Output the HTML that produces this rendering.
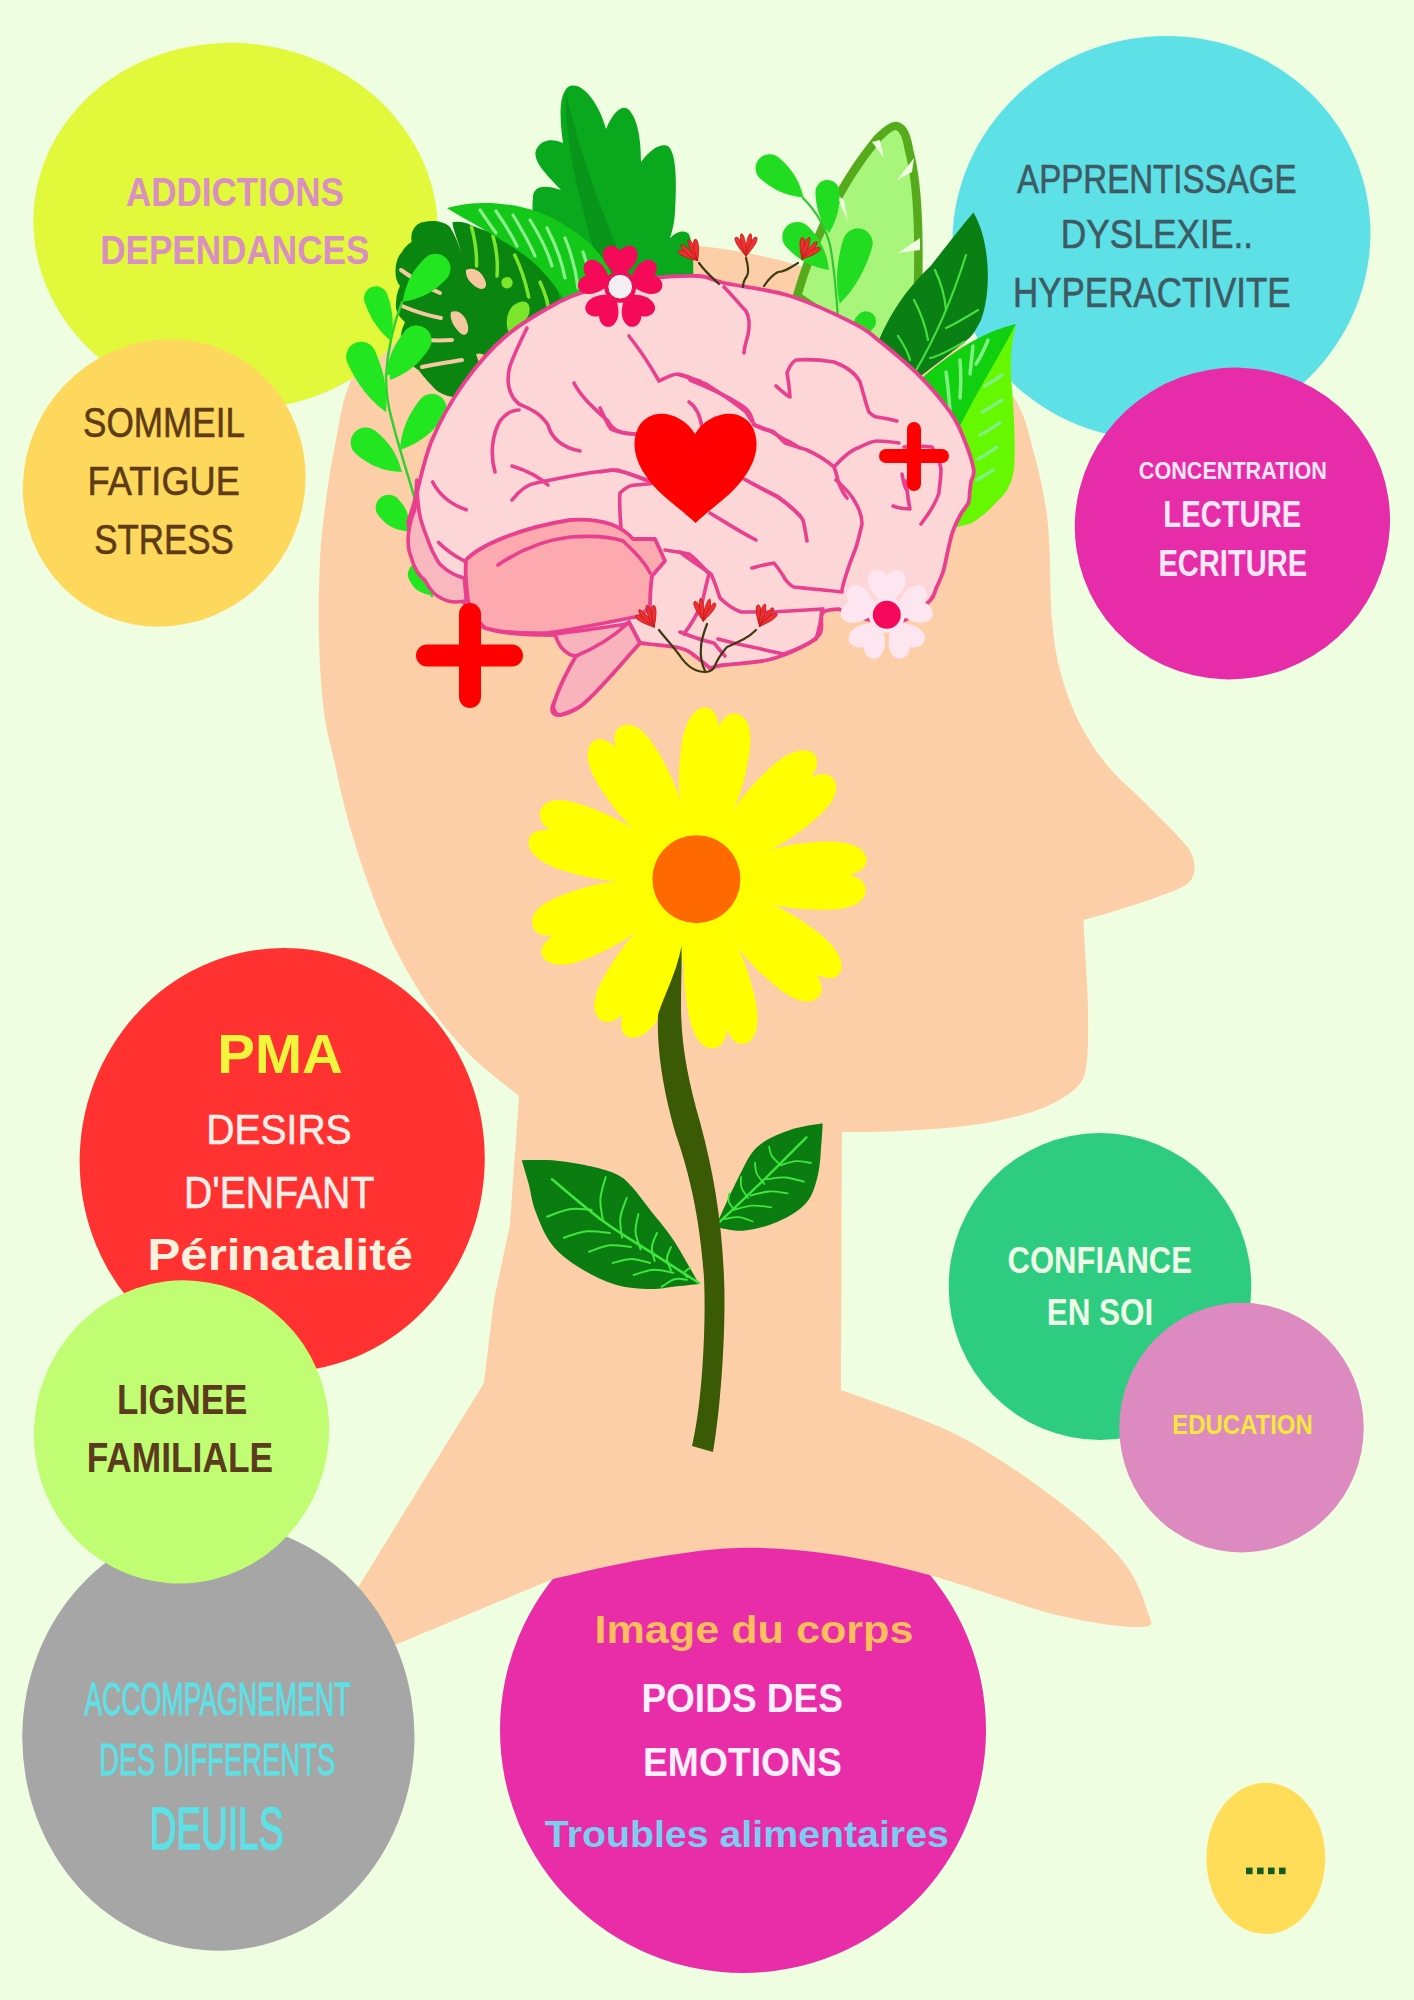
<!DOCTYPE html>
<html><head><meta charset="utf-8">
<style>
html,body{margin:0;padding:0;background:#effde0;}
body{width:1414px;height:2000px;overflow:hidden;}
svg{display:block;}
text{font-family:"Liberation Sans",sans-serif;}
</style></head><body>
<svg width="1414" height="2000" viewBox="0 0 1414 2000">
<defs>
<path id="dpetal" d="M0,-30 C-26,-50 -33,-90 -34,-125 C-35,-150 -29,-169 -16,-171 C-7,-172 -3,-164 0,-154 C3,-164 9,-171 18,-169 C31,-166 35,-148 34,-125 C33,-90 26,-50 0,-30 Z"/>
<g id="rf"><g fill="#ee3030" stroke="#c01818" stroke-width="0.8">
<path d="M0,8 C-4,4 -12,-6 -11,-10 C-9,-13 -6,-8 -3,-2 Z"/>
<path d="M0,8 C-4,2 -7,-10 -5,-14 C-3,-16 -1,-8 0,-2 Z"/>
<path d="M0,8 C4,2 7,-10 5,-14 C3,-16 1,-8 0,-2 Z"/>
<path d="M0,8 C4,4 12,-6 11,-10 C9,-13 6,-8 3,-2 Z"/>
</g></g>
<path id="spetal" d="M0,-0.2 C-0.15,-0.35 -0.44,-0.52 -0.41,-0.8 C-0.39,-1.0 -0.14,-1.04 0,-0.86 C0.14,-1.04 0.39,-1.0 0.41,-0.8 C0.44,-0.52 0.15,-0.35 0,-0.2 Z"/>
</defs>
<rect width="1414" height="2000" fill="#effde0"/>
<circle cx="743" cy="1730" r="243" fill="#e92ca8"/>

<path id="head" fill="#fdcfa9" d="M519.0,1096.0 C510.5,1088.8 483.7,1069.0 468.0,1053.0 C452.3,1037.0 437.8,1018.8 425.0,1000.0 C412.2,981.2 400.7,960.0 391.0,940.0 C381.3,920.0 374.2,900.0 367.0,880.0 C359.8,860.0 353.5,840.0 348.0,820.0 C342.5,800.0 338.0,778.0 334.0,760.0 C330.0,742.0 326.5,732.0 324.0,712.0 C321.5,692.0 319.7,665.3 319.0,640.0 C318.3,614.7 318.8,583.3 320.0,560.0 C321.2,536.7 323.3,520.0 326.0,500.0 C328.7,480.0 331.7,460.3 336.0,440.0 C340.3,419.7 341.3,401.3 352.0,378.0 C362.7,354.7 375.3,320.0 400.0,300.0 C424.7,280.0 463.3,267.2 500.0,258.0 C536.7,248.8 586.7,247.0 620.0,245.0 C653.3,243.0 670.0,242.5 700.0,246.0 C730.0,249.5 766.7,255.3 800.0,266.0 C833.3,276.7 871.7,296.0 900.0,310.0 C928.3,324.0 950.8,335.2 970.0,350.0 C989.2,364.8 1004.2,381.2 1015.0,399.0 C1025.8,416.8 1029.5,436.0 1035.0,457.0 C1040.5,478.0 1045.2,497.8 1048.0,525.0 C1050.8,552.2 1049.8,595.2 1052.0,620.0 C1054.2,644.8 1056.5,657.0 1061.0,674.0 C1065.5,691.0 1071.5,707.0 1079.0,722.0 C1086.5,737.0 1095.5,751.0 1106.0,764.0 C1116.5,777.0 1131.0,789.0 1142.0,800.0 C1153.0,811.0 1164.0,821.5 1172.0,830.0 C1180.0,838.5 1186.2,844.5 1190.0,851.0 C1193.8,857.5 1195.0,863.5 1194.5,869.0 C1194.0,874.5 1192.8,879.5 1187.0,884.0 C1181.2,888.5 1172.0,891.5 1160.0,896.0 C1148.0,900.5 1127.8,907.0 1115.0,911.0 C1102.2,915.0 1088.8,918.5 1083.5,920.0 C1083.8,925.0 1084.2,935.0 1085.0,950.0 C1085.8,965.0 1087.8,991.0 1088.0,1010.0 C1088.2,1029.0 1088.5,1051.0 1086.5,1064.0 C1084.5,1077.0 1083.8,1080.5 1076.0,1088.0 C1068.2,1095.5 1056.0,1103.0 1040.0,1109.0 C1024.0,1115.0 1003.3,1120.3 980.0,1124.0 C956.7,1127.7 923.0,1129.7 900.0,1131.0 C877.0,1132.3 851.7,1131.8 842.0,1132.0 C841.8,1175.0 841.2,1347.0 841.0,1390.0 C860.3,1397.5 921.0,1416.7 957.0,1435.0 C993.0,1453.3 1029.5,1479.2 1057.0,1500.0 C1084.5,1520.8 1107.0,1541.7 1122.0,1560.0 C1137.0,1578.3 1143.7,1598.8 1147.0,1610.0 C1150.3,1621.2 1157.0,1626.2 1142.0,1627.0 C1127.0,1627.8 1092.5,1623.7 1057.0,1615.0 C1021.5,1606.3 966.8,1585.2 929.0,1575.0 C891.2,1564.8 862.0,1558.5 830.0,1554.0 C798.0,1549.5 768.7,1547.0 737.0,1548.0 C705.3,1549.0 670.7,1554.8 640.0,1560.0 C609.3,1565.2 567.5,1575.8 553.0,1579.0 C527.0,1589.8 423.0,1633.2 397.0,1644.0 C387.5,1646.7 349.5,1657.3 340.0,1660.0 C343.2,1631.0 355.8,1595.0 359.0,1586.0 C379.8,1552.2 463.2,1416.8 484.0,1383.0 C485.7,1369.2 492.3,1313.8 494.0,1300.0 C496.7,1287.5 507.3,1237.5 510.0,1225.0 C511.3,1206.2 516.7,1130.8 518.0,1112.0 C518.2,1109.3 518.8,1098.7 519.0,1096.0 Z"/>

<ellipse cx="235.6" cy="226.0" rx="182.8" ry="202.5" transform="rotate(97.2 235.6 226.0)" fill="#e2f83a"/>
<ellipse cx="164.2" cy="482.9" rx="139.5" ry="145.6" transform="rotate(-146.2 164.2 482.9)" fill="#fdd85c"/>
<ellipse cx="1161.4" cy="237.9" rx="201.2" ry="209.7" transform="rotate(73.2 1161.4 237.9)" fill="#5de0e6"/>
<ellipse cx="1232.4" cy="523.5" rx="154.9" ry="158.6" transform="rotate(58.7 1232.4 523.5)" fill="#e72caa"/>
<ellipse cx="282.2" cy="1160.0" rx="202.5" ry="212.0" transform="rotate(-175.6 282.2 1160.0)" fill="#ff3131"/>
<ellipse cx="218.4" cy="1737.1" rx="196.1" ry="213.6" transform="rotate(-179.3 218.4 1737.1)" fill="#a6a6a6"/>
<ellipse cx="181.5" cy="1431.9" rx="147.3" ry="151.9" transform="rotate(-164.5 181.5 1431.9)" fill="#c1fd72"/>
<ellipse cx="1100" cy="1286.5" rx="151.3" ry="153.5" fill="#2ecc80"/>
<ellipse cx="1241.5" cy="1427.6" rx="122.2" ry="124.8" fill="#dd8ac0"/>
<ellipse cx="1265.8" cy="1858.3" rx="59.4" ry="75.6" fill="#ffdd59"/>

<g id="plants" stroke-linecap="round" stroke-linejoin="round">
<!-- big serrated leaf -->
<path fill="#0aa81c" d="M548,310 C540,270 530,230 533,196 C534,186 545,184 561,190 C548,176 530,160 537,148 C543,138 555,139 563,143 C560,120 558,96 568,87 C580,80 598,100 606,129 C612,115 620,104 628,109 C638,118 641,140 641,162 C650,150 660,143 668,146 C678,155 676,190 675,213 C674,225 672,232 670,238 C676,232 684,229 689,234 C695,250 693,265 693,300 L600,320 Z"/>
<path fill="#08951a" d="M566,92 C574,130 590,180 608,225 C620,255 630,285 640,315 L612,318 C600,275 588,230 578,190 C570,155 565,120 566,92 Z"/>
<!-- monstera -->
<path fill="#0a850f" d="M411.6,242 C410,232 415,223 424,222 C432,220 444,221 450,227 C455,235 459,245 461.3,253.5 C458,240 453,230 452.4,222.3 C458,221 466,222 471.5,225.5 C478,228 484,230 490,232 C510,240 535,258 552,280 C566,300 566,340 552,385 L476,398 C462,399 446,398 436,390 C428,382 422,375 419,370.6 C408,364 402,352 401,337 C401,330 404,325 405,322 C398,316 395,310 396,303 C396,296 398,290 400,286 C395,280 395,272 396,265 C397,258 400,254 402,252 C404,248 408,244 411.6,242 Z"/>
<g fill="none" stroke="#f5c8a0" stroke-linecap="round">
<path stroke-width="4" d="M401,270 C415,280 428,288 440,293"/>
<path stroke-width="4" d="M402,306 C416,312 430,316 441,318"/>
<path stroke-width="4" d="M405,338 C420,340 438,341 452,340"/>
<path stroke-width="4" d="M422,367 C436,364 450,362 462,360"/>
</g>
<g fill="#f5c8a0">
<path d="M466,270 C474,266 482,272 485,280 C488,287 484,291 478,288 C472,285 465,278 466,270 Z"/>
<path d="M451,312 C459,309 466,316 468,326 C469,334 465,337 460,333 C455,328 449,320 451,312 Z"/>
<path d="M476,354 C482,352 488,356 489,362 C488,366 483,366 479,363 Z"/>
</g>
<g fill="none" stroke="#7ce62c" stroke-width="3.5" stroke-linecap="round">
<path d="M471.5,227 C475,240 477,253 476.5,266"/>
<path d="M493,236 C497,250 498,262 497,276"/>
<path d="M514.7,255 C522,270 526,284 528.7,297"/>
<path d="M540,282 C546,295 549,305 549,315"/>
</g>
<path fill="#7ce62c" d="M520,302 C528,300 531,306 529,314 C526,322 516,331 510,334 C505,328 506,315 511,308 C514,304 517,303 520,302 Z"/>
<circle cx="507" cy="282.7" r="5.7" fill="#7ce62c"/>
<!-- fern -->
<path fill="#14c81a" d="M447,208 C480,198 530,202 566,226 C590,240 605,258 612,275 C600,290 585,300 568,305 C555,285 540,265 517,250 C495,236 475,224 461,216.5 C455,213 450,210 447,208 Z"/>
<g stroke="#8af08a" stroke-width="3.2" fill="none" stroke-linecap="round">
<path d="M480,210 C487,220 492,228 496,233"/>
<path d="M496,211 C505,224 512,236 517,246"/>
<path d="M513,215 C522,230 530,244 535,256"/>
<path d="M530,220 C540,236 548,252 552,266"/>
<path d="M547,228 C556,245 562,262 565,278"/>
<path d="M565,238 C572,255 576,270 578,288"/>
<path d="M583,252 C588,265 590,278 590,292"/>
</g>
<!-- left vine -->
<path fill="none" stroke="#30d030" stroke-width="2.5" d="M402,302 C395,320 388,345 386,376 C386,395 389,410 392,420 C398,445 408,475 414,496 C418,520 420,550 432,596"/>
<g fill="#22e620">
<path transform="translate(402.7,301.8) rotate(-45.3)" d="M0,0 C18.5,-13.5 33.1,-15.0 46.6,-15.0 A15.0,15.0 0 0 1 46.6,15.0 C33.1,15.0 18.5,13.5 0,0 Z"/>
<path transform="translate(391.0,341.0) rotate(-109.4)" d="M0,0 C17.2,-10.8 34.4,-12.0 45.2,-12.0 A12.0,12.0 0 0 1 45.2,12.0 C34.4,12.0 17.2,10.8 0,0 Z"/>
<path transform="translate(386.0,412.0) rotate(-114.2)" d="M0,0 C22.7,-13.5 47.1,-15.0 60.6,-15.0 A15.0,15.0 0 0 1 60.6,15.0 C47.1,15.0 22.7,13.5 0,0 Z"/>
<path transform="translate(386.0,376.0) rotate(-50.3)" d="M0,0 C18.3,-12.6 34.5,-14.0 47.1,-14.0 A14.0,14.0 0 0 1 47.1,14.0 C34.5,14.0 18.3,12.6 0,0 Z"/>
<path transform="translate(402.0,472.0) rotate(-140.9)" d="M0,0 C18.6,-13.5 33.3,-15.0 46.8,-15.0 A15.0,15.0 0 0 1 46.8,15.0 C33.3,15.0 18.6,13.5 0,0 Z"/>
<path transform="translate(400.0,450.0) rotate(-52.3)" d="M0,0 C20.1,-13.5 38.5,-15.0 52.0,-15.0 A15.0,15.0 0 0 1 52.0,15.0 C38.5,15.0 20.1,13.5 0,0 Z"/>
<path transform="translate(410.0,532.0) rotate(-131.4)" d="M0,0 C13.6,-11.7 20.6,-13.0 32.3,-13.0 A13.0,13.0 0 0 1 32.3,13.0 C20.6,13.0 13.6,11.7 0,0 Z"/>
<path transform="translate(432.0,596.0) rotate(-119.4)" d="M0,0 C11.0,-10.8 13.9,-12.0 24.7,-12.0 A12.0,12.0 0 0 1 24.7,12.0 C13.9,12.0 11.0,10.8 0,0 Z"/>
<path transform="translate(390.0,380.0) rotate(-56.1)" d="M0,0 C18.8,-13.5 34.2,-15.0 47.7,-15.0 A15.0,15.0 0 0 1 47.7,15.0 C34.2,15.0 18.8,13.5 0,0 Z"/>
</g>
<!-- right light green serrated leaf -->
<path fill="#a8f57c" stroke="#56ab1c" stroke-width="8.5" stroke-linejoin="round" d="M797,296 C803,275 812,250 825,222 C838,195 858,162 878,138 C886,130 893,125 897,126 C904,128 907,138 909,150 C913,165 917,190 918,227 C919,260 918,300 916,335 L870,345 Z"/>
<g fill="#effde0">
<path d="M836,194 L848,222 L844,200 Z"/>
<path d="M872,142 L884,158 L880,140 Z"/>
<path d="M914,158 L897,180 L912,172 Z"/>
<path d="M920,238 L898,253 L920,250 Z"/>
</g>
<!-- right vine -->
<path fill="none" stroke="#30c830" stroke-width="2.2" d="M803,198 C815,210 825,225 830,245 C834,265 836,290 838,318"/>
<g fill="#22dc22">
<path transform="translate(803.6,197.6) rotate(-139.1)" d="M0,0 C17.7,-12.6 32.4,-14.0 45.0,-14.0 A14.0,14.0 0 0 1 45.0,14.0 C32.4,14.0 17.7,12.6 0,0 Z"/>
<path transform="translate(829.0,233.0) rotate(-92.2)" d="M0,0 C15.9,-10.8 30.2,-12.0 41.0,-12.0 A12.0,12.0 0 0 1 41.0,12.0 C30.2,12.0 15.9,10.8 0,0 Z"/>
<path transform="translate(829.0,270.0) rotate(-133.7)" d="M0,0 C18.2,-13.5 32.3,-15.0 45.8,-15.0 A15.0,15.0 0 0 1 45.8,15.0 C32.3,15.0 18.2,13.5 0,0 Z"/>
<path transform="translate(839.7,303.7) rotate(-73.4)" d="M0,0 C23.4,-13.5 49.5,-15.0 63.0,-15.0 A15.0,15.0 0 0 1 63.0,15.0 C49.5,15.0 23.4,13.5 0,0 Z"/>
<path transform="translate(855.0,333.0) rotate(-46.5)" d="M0,0 C7.9,-9.0 7.2,-10.0 16.2,-10.0 A10.0,10.0 0 0 1 16.2,10.0 C7.2,10.0 7.9,9.0 0,0 Z"/>
</g>
<!-- dark green leaf right -->
<path fill="#0a8014" d="M973.4,212.5 C990,240 992,290 981,320 C976,330 972,336 969.7,337.7 C955,350 935,365 900,392 C885,370 875,350 880,337.6 C890,315 905,290 931,265.5 C945,248 960,228 973.4,212.5 Z"/>
<g stroke="#45e040" stroke-width="2.2" fill="none" stroke-linecap="round">
<path d="M966,255 C955,290 940,330 915,372"/>
<path d="M935,270 C942,285 945,297 946,310"/>
<path d="M914,300 C922,315 926,328 928,340"/>
<path d="M898,336 C904,345 908,352 910,360"/>
<path d="M978,310 C965,318 955,324 946,328"/>
<path d="M964,342 C950,350 940,356 930,358"/>
</g>
<!-- bright green leaf right -->
<path fill="#10d010" d="M1016,324 C990,330 960,345 923,377 L915,470 C930,460 945,445 958,430 C975,400 1000,360 1016,324 Z"/>
<path fill="#66f800" d="M1016,324 C1010,345 1011,365 1011,378 C1013,400 1016,440 1014,469 C1012,485 1005,495 997,501.5 C990,510 980,518 971,523.5 L945,530 C940,490 948,455 958,430 C975,395 1000,355 1016,324 Z"/>
<g stroke="#80f080" stroke-width="3.5" fill="none" stroke-linecap="round">
<path d="M946,372 C948,385 949,398 950,410"/>
<path d="M960,360 C961,372 961,385 960,398"/>
<path d="M973,346 C972,356 971,365 970,374"/>
<path d="M988,340 C984,350 980,358 976,364"/>
<path d="M1002,375 C995,380 990,383 985,386"/>
<path d="M1002,400 C994,405 988,409 982,412"/>
<path d="M1000,423 C992,428 986,432 980,435"/>
<path d="M997,447 C990,452 984,456 978,459"/>
<path d="M993,470 C987,474 982,477 977,480"/>
</g>
</g>

<g id="brain" stroke-linecap="round" stroke-linejoin="round">
<!-- outer brain -->
<path fill="#fdd6d8" stroke="#e8408f" stroke-width="3.8" d="M408.0,522.0 C409.2,518.3 411.0,513.7 415.0,500.0 C419.0,486.3 423.8,459.5 432.0,440.0 C440.2,420.5 451.7,400.3 464.0,383.0 C476.3,365.7 490.2,349.5 506.0,336.0 C521.8,322.5 544.8,309.7 559.0,302.0 C573.2,294.3 578.7,293.7 591.0,290.0 C603.3,286.3 615.3,282.3 633.0,280.0 C650.7,277.7 681.8,275.5 697.0,276.0 C712.2,276.5 708.5,279.7 724.0,283.0 C739.5,286.3 768.2,289.2 790.0,296.0 C811.8,302.8 840.0,316.4 855.0,324.0 C870.0,331.6 869.3,333.0 880.0,341.6 C890.7,350.2 907.3,363.7 919.0,375.4 C930.7,387.1 942.7,401.6 950.0,411.8 C957.3,422.0 959.1,427.0 963.0,436.5 C966.9,446.0 972.3,461.4 973.6,469.0 C974.9,476.6 971.6,478.1 971.0,482.0 C970.4,485.9 970.1,488.9 969.7,492.4 C969.3,495.9 969.9,499.1 968.4,502.8 C966.9,506.5 963.2,509.7 960.6,514.5 C958.0,519.3 955.0,525.1 952.8,531.4 C950.6,537.6 949.2,545.2 947.6,552.0 C946.0,558.8 944.9,566.1 943.0,572.0 C941.1,577.9 938.7,582.6 936.5,587.4 C934.3,592.2 935.2,595.2 930.0,600.6 C924.8,606.0 915.0,616.8 905.0,620.0 C895.0,623.2 881.2,621.8 870.0,620.0 C858.8,618.2 843.3,610.8 838.0,609.0 C835.4,609.7 825.5,608.9 822.5,613.0 C819.5,617.1 823.3,627.9 820.0,633.5 C816.7,639.1 811.5,642.2 802.8,646.6 C794.1,651.0 780.8,656.9 767.7,660.0 C754.6,663.1 733.7,663.7 724.0,665.0 C714.3,666.3 712.1,667.5 709.7,668.0 C707.2,666.0 700.0,659.3 695.0,656.0 C690.0,652.7 689.2,650.2 680.0,648.0 C670.8,645.8 646.7,643.8 640.0,643.0 C635.0,648.3 619.7,664.7 610.0,675.0 C600.3,685.3 590.5,698.3 582.0,705.0 C573.5,711.7 563.8,715.0 559.0,715.0 C554.2,715.0 550.2,712.5 553.0,705.0 C555.8,697.5 564.8,682.8 576.0,670.0 C587.2,657.2 612.7,635.0 620.0,628.0 C609.2,629.2 577.5,635.0 555.0,635.0 C532.5,635.0 500.3,633.7 485.0,628.0 C469.7,622.3 466.7,605.5 463.0,601.0 C459.5,600.0 449.7,600.3 442.0,595.0 C434.3,589.7 422.7,581.2 417.0,569.0 C411.3,556.8 409.5,529.8 408.0,522.0 Z"/>
<!-- left lower lobe (medium pink) -->
<path fill="#f9b8c0" stroke="#e8408f" stroke-width="3.6" d="M414.8,509.7 C408,525 406,545 410.8,556 C414,568 419,576 424.7,580 C430,590 436,596 441,598 C446,601 452,602 456,602 C460,602 464,601 466.3,600.8 L464.3,578 C455,576 446,570 439.6,564 C433,554 430,546 427.7,539.4 C424,530 421,522 419.8,515 C418,505 417,495 416.8,480 Z"/>
<path fill="none" stroke="#e8408f" stroke-width="3.6" stroke-linecap="round" d="M438.6,542.4 C446,550 455,556 464.3,561"/>
<!-- temporal lobe -->
<path fill="#fcaab0" stroke="#e8408f" stroke-width="3.8" d="M466,560 C480,545 520,528 570,520 C600,518 620,524 633,539 L655,539 L665,561 L652,576 C650,590 650,600 650,607 L640,616 C600,624 570,630 548,633 C520,634 500,632 485,628 C476,620 470,612 468,600 C466,585 465,572 466,560 Z"/>
<path fill="none" stroke="#e8408f" stroke-width="3.6" d="M498,565 C520,550 545,540 570,537 C600,535 615,538 623,541 C635,552 645,562 650,573"/>
<!-- brainstem -->
<path fill="#f9b3bc" stroke="#e8408f" stroke-width="3.8" d="M629,622 C610,635 590,648 576,656 C565,675 556,695 553,707 C555,713 558,715 560,715 C570,712 578,708 582,705 C600,690 620,665 640,643 Z"/>
<path fill="#f9b3bc" stroke="#e8408f" stroke-width="3.6" d="M555,634 C558,645 565,655 576,656 C595,648 612,638 627,624 C600,628 575,632 555,634 Z"/>
<!-- sulci -->
<g fill="none" stroke="#e8408f" stroke-width="3.6">
<path d="M527,328 C522,338 515,352 510,366 C506,380 508,395 519,404 C528,408 540,412 548,425 C552,440 565,448 580,451"/>
<path d="M495,472 C490,455 492,435 500,421 C506,413 512,410 519,410"/>
<path d="M574,383 C580,395 590,405 608,421 C612,430 620,434 635,434"/>
<path d="M629,336 C640,350 650,365 659,381 C665,378 672,374 678,374 C688,376 695,380 700,381"/>
<path d="M512,466 C525,470 537,475 548,485"/>
<path d="M512,500 C520,490 528,484 536,483 C560,478 590,472 612,470 C625,471 640,477 654,483"/>
<path d="M432.6,482 C440,496 452,505 466.3,509.7"/>
<path d="M689,402 C695,406 700,415 702,427"/>
<path d="M600,408 C605,418 608,426 611,429 C620,433 628,434 636,434"/>
<path d="M690,380 C710,388 730,398 741,405 C750,410 752,418 754,425 C760,428 765,430 770,431 C777,434 780,438 790,442 C795,445 800,448 800,448"/>
<path d="M600,472 C605,471 612,470 617,470 C630,474 640,478 654,483"/>
<path d="M621,528 C620,515 619,503 620,493 C625,488 630,485 635,485 C645,484 650,484 654,483"/>
<path d="M744,479 C755,485 765,490 777,496 C785,502 793,508 800,516"/>
<path d="M710,513 C725,522 740,532 756,540"/>
<path d="M724,287 C732,295 740,305 746,311 C750,318 750,325 748,335 C746,342 744,348 744,353"/>
<path d="M776,386 C782,391 786,395 790,397 C789,385 788,378 787,373 C790,365 794,361 796,360 C810,359 822,360 834,362 C850,368 857,376 860,382 C864,395 866,405 869,412 C872,415 875,417 877,417 C885,418 890,419 897,421"/>
<path d="M680,375 C690,378 700,382 706,384 C720,393 735,403 746,412 C750,418 752,422 755,425 C762,428 768,430 774,432 C778,436 782,440 785,443 C795,446 800,448 807,450 C818,455 826,460 834,467 C836,472 837,476 838,480 C840,487 843,493 847,498"/>
<path d="M834,467 C842,458 850,450 860,447 C866,444 872,441 877,441 C885,441 892,442 899,443"/>
<path d="M904,447 C915,446 925,446 932,447 C937,455 940,462 941,469 C941,476 940,484 939,491"/>
<path d="M902,474 C903,480 904,485 906,489"/>
<path d="M746,480 C758,487 770,493 779,498 C790,506 798,512 803,520 C805,528 806,535 807,541"/>
<path d="M836,480 C845,488 852,495 855,502 C860,510 862,517 862,524 C860,533 858,542 855,550 C852,558 849,565 847,572 C845,578 843,584 842,590"/>
<path d="M752,568 C760,566 767,564 774,563 C778,568 782,573 785,579 C788,583 791,586 794,587 C810,589 826,590 842,592"/>
<path d="M680,552 C690,560 700,566 711,574 C715,582 717,590 720,598 C726,604 733,609 741,612 C750,612 760,612 772,612 C790,611 806,610 823,609"/>
<path d="M709,574 C706,585 704,595 702,603 C698,613 692,623 684,634"/>
<path d="M893,506 C898,508 903,509 910,509 C908,500 907,490 906,481"/>
<path d="M921,524 C928,515 935,505 939,493"/>
<path d="M665,550 C672,551 680,552 689,554 C697,560 703,567 710,575"/>
<path d="M718,639 C730,642 740,645 752,647 C762,649 772,652 784,654 C795,650 806,645 816,639 C819,630 821,620 822,609"/>
<path d="M680,632 C690,636 700,640 714,643 C718,648 721,652 725,656"/>
</g>
<!-- heart -->
<path fill="#ff0000" d="M695,434 C682,412 650,405 638,428 C628,450 640,475 665,497 C677,507 688,516 695.5,523 C703,516 714,507 726,497 C751,475 763,450 753,428 C741,405 708,412 695,434 Z"/>
<!-- plus signs -->
<g stroke="#ff0000" stroke-linecap="round" fill="none">
<path stroke-width="14" d="M914,429 L914,484 M886,456 L942,456"/>
<path stroke-width="22" d="M470,614 L470,697 M427,655.5 L512,655.5"/>
</g>
<!-- pink flower top -->
<g fill="#f50a5a">
<use href="#spetal" transform="translate(620.2,286.7) scale(42) rotate(0)"/>
<use href="#spetal" transform="translate(620.2,286.7) scale(42) rotate(72)"/>
<use href="#spetal" transform="translate(620.2,286.7) scale(42) rotate(144)"/>
<use href="#spetal" transform="translate(620.2,286.7) scale(42) rotate(216)"/>
<use href="#spetal" transform="translate(620.2,286.7) scale(42) rotate(288)"/>
</g>
<circle cx="620.2" cy="286.7" r="16" fill="#f50a5a"/>
<circle cx="620.2" cy="286.7" r="12.4" fill="#f3eef2" stroke="#d0084c" stroke-width="1"/>
<!-- white flower -->
<g fill="#fde6ef">
<use href="#spetal" transform="translate(886.8,614.8) scale(46) rotate(0)"/>
<use href="#spetal" transform="translate(886.8,614.8) scale(46) rotate(72)"/>
<use href="#spetal" transform="translate(886.8,614.8) scale(46) rotate(144)"/>
<use href="#spetal" transform="translate(886.8,614.8) scale(46) rotate(216)"/>
<use href="#spetal" transform="translate(886.8,614.8) scale(46) rotate(288)"/>
</g>
<circle cx="886.8" cy="614.8" r="18" fill="#fde6ef"/>
<circle cx="886.8" cy="614.8" r="14" fill="#f5075a"/>
<!-- small red flowers -->
<g fill="none" stroke="#3d3a12" stroke-width="2.2">
<path d="M699,263 C704,270 710,276 719,284"/>
<path d="M746,258 C748,265 749,272 747,276 C744,280 743,284 743,287"/>
<path d="M798,263 C790,268 784,272 778,272 C772,275 768,280 764,286"/>
<path d="M659,630 C665,638 672,645 680,656 C688,668 698,672 705.5,672"/>
<path d="M707,624 C704,632 701,640 701,647 C700,656 702,665 705.5,672"/>
<path d="M756,630 C752,634 748,637 744,639 C738,642 732,645 727,647 C720,655 716,662 714,668 C711,671 708,672 705.5,672"/>
</g>
<use href="#rf" transform="translate(693,254) rotate(-35)"/>
<use href="#rf" transform="translate(746,248) rotate(0)"/>
<use href="#rf" transform="translate(806,252) rotate(30)"/>
<use href="#rf" transform="translate(650,620) rotate(-30)"/>
<use href="#rf" transform="translate(704,613) rotate(5)"/>
<use href="#rf" transform="translate(763,619) rotate(25)"/>
</g>

<g id="daisy">
<g fill="#ffff00">
<use href="#dpetal" transform="translate(696,879) rotate(8.5)"/>
<use href="#dpetal" transform="translate(696,879) rotate(48.5)"/>
<use href="#dpetal" transform="translate(696,879) rotate(88.5)"/>
<use href="#dpetal" transform="translate(696,879) rotate(128.5)"/>
<use href="#dpetal" transform="translate(696,879) rotate(168.5)"/>
<use href="#dpetal" transform="translate(696,879) rotate(208.5)"/>
<use href="#dpetal" transform="translate(696,879) rotate(248.5)"/>
<use href="#dpetal" transform="translate(696,879) rotate(288.5)"/>
<use href="#dpetal" transform="translate(696,879) rotate(328.5)"/>
<circle cx="696" cy="879" r="62"/>
</g>
<circle cx="696.4" cy="879.2" r="44" fill="#ff6a00"/>

<path fill="#0a7c10" d="M521.7,1160.2 C527.5,1160.3 545.0,1159.7 556.7,1160.7 C568.4,1161.8 581.6,1164.2 591.7,1166.5 C601.8,1168.8 610.8,1171.4 617.4,1174.7 C624.0,1178.0 626.0,1180.5 631.4,1186.3 C636.8,1192.1 643.0,1200.8 650.0,1209.7 C657.0,1218.7 665.2,1227.6 673.4,1240.0 C681.6,1252.4 694.7,1276.7 699.0,1284.0 C694.7,1284.5 681.6,1285.9 673.4,1286.7 C665.2,1287.5 659.7,1289.4 650.0,1289.0 C640.3,1288.6 626.7,1287.9 615.0,1284.4 C603.3,1280.9 590.5,1274.6 580.0,1268.0 C569.5,1261.4 559.4,1254.0 552.0,1244.7 C544.6,1235.4 539.6,1222.1 535.7,1212.0 C531.8,1201.9 531.0,1192.6 528.7,1184.0 C526.4,1175.4 522.9,1164.2 521.7,1160.2 Z"/>
<path fill="#0a7c10" d="M822.7,1123.3 C817.2,1124.4 800.9,1126.1 790.0,1130.0 C779.1,1133.9 765.9,1138.9 757.4,1146.7 C748.9,1154.5 745.7,1163.6 738.7,1177.0 C731.7,1190.4 719.3,1218.7 715.4,1227.0 C720.1,1227.6 732.9,1231.6 743.4,1230.7 C753.9,1229.8 767.9,1226.1 778.4,1221.4 C788.9,1216.7 799.8,1210.5 806.4,1202.7 C813.0,1194.9 815.5,1184.8 818.0,1174.7 C820.5,1164.6 820.7,1150.6 821.5,1142.0 C822.3,1133.4 822.5,1126.4 822.7,1123.3 Z"/>
<g stroke="#3ee63e" fill="none" stroke-linecap="round">
<path stroke-width="2.6" d="M552.0,1179.3 C560.5,1186.2 586.7,1208.9 603.0,1221.0 C619.3,1233.1 634.0,1241.4 650.0,1251.7 C666.0,1262.0 690.8,1277.8 699.0,1283.0"/>
<path stroke-width="2.0" d="M591.7,1209.7 C588.0,1209.6 576.8,1208.0 569.4,1209.2 C561.9,1210.4 550.7,1215.5 547.0,1216.7"/>
<path stroke-width="2.0" d="M610.0,1233.0 C606.1,1232.7 594.6,1230.6 586.9,1231.3 C579.1,1232.1 567.6,1236.6 563.7,1237.7"/>
<path stroke-width="2.0" d="M631.0,1247.0 C627.5,1246.7 617.0,1244.6 610.0,1245.3 C603.0,1246.1 592.5,1250.6 589.0,1251.7"/>
<path stroke-width="2.0" d="M650.0,1263.0 C646.9,1262.3 637.6,1259.0 631.4,1259.0 C625.1,1259.0 615.8,1262.3 612.7,1263.0"/>
<path stroke-width="2.0" d="M673.4,1272.7 C670.1,1272.2 660.2,1269.5 653.5,1269.8 C646.9,1270.2 637.0,1274.1 633.7,1275.0"/>
<path stroke-width="2.0" d="M687.0,1279.7 C684.9,1279.6 678.6,1278.0 674.4,1279.2 C670.1,1280.4 663.8,1285.5 661.7,1286.7"/>
<path stroke-width="2.0" d="M603.0,1221.0 C602.6,1217.3 599.9,1206.3 600.4,1199.0 C600.8,1191.7 604.8,1180.7 605.7,1177.0"/>
<path stroke-width="2.0" d="M622.0,1237.7 C621.7,1234.4 619.6,1224.5 620.4,1217.8 C621.1,1211.2 625.6,1201.3 626.7,1198.0"/>
<path stroke-width="2.0" d="M640.7,1249.4 C639.8,1246.5 635.9,1237.6 635.5,1231.7 C635.2,1225.8 637.9,1217.0 638.4,1214.0"/>
<path stroke-width="2.0" d="M654.7,1261.0 C654.2,1258.7 651.5,1251.7 651.9,1247.0 C652.2,1242.3 656.1,1235.3 657.0,1233.0"/>
<path stroke-width="2.0" d="M671.0,1270.4 C670.3,1268.5 667.0,1262.6 667.0,1258.7 C667.0,1254.8 670.3,1249.0 671.0,1247.0"/>
<path stroke-width="2.0" d="M687.0,1277.0 C686.6,1276.2 683.9,1274.0 684.4,1272.5 C684.8,1271.0 688.8,1268.8 689.7,1268.0"/>
<path stroke-width="2.4" d="M806.4,1137.3 C799.8,1143.9 781.9,1162.2 766.7,1177.0 C751.5,1191.8 724.0,1217.8 715.4,1226.0"/>
<path stroke-width="1.8" d="M780.7,1165.3 C779.2,1163.8 773.8,1159.1 771.9,1156.0 C769.9,1152.9 769.5,1148.2 769.0,1146.7"/>
<path stroke-width="1.8" d="M764.4,1184.0 C763.1,1182.2 758.3,1177.0 756.7,1173.5 C755.1,1170.0 755.3,1164.8 755.0,1163.0"/>
<path stroke-width="1.8" d="M748.0,1198.0 C746.9,1196.2 742.7,1191.0 741.5,1187.5 C740.3,1184.0 741.1,1178.8 741.0,1177.0"/>
<path stroke-width="1.8" d="M734.0,1209.7 C733.1,1208.3 729.5,1204.2 728.7,1201.5 C727.9,1198.8 729.3,1194.7 729.4,1193.3"/>
<path stroke-width="1.8" d="M780.7,1165.3 C783.2,1164.6 790.8,1161.5 795.9,1161.2 C800.9,1160.8 808.5,1162.7 811.0,1163.0"/>
<path stroke-width="1.8" d="M766.7,1179.3 C769.8,1179.0 779.1,1177.1 785.4,1177.5 C791.6,1177.9 800.9,1181.0 804.0,1181.7"/>
<path stroke-width="1.8" d="M750.4,1195.7 C753.5,1195.0 762.8,1191.9 769.0,1191.5 C775.3,1191.1 784.6,1193.0 787.7,1193.3"/>
<path stroke-width="1.8" d="M734.0,1209.7 C737.1,1209.0 746.5,1205.9 752.7,1205.6 C758.9,1205.2 768.3,1207.1 771.4,1207.4"/>
<path stroke-width="1.8" d="M724.7,1219.0 C727.0,1218.7 734.0,1216.8 738.7,1217.2 C743.4,1217.6 750.4,1220.7 752.7,1221.4"/>
</g>

<path fill="#3b5a06" d="M681.5,946 C676,975 662,1000 658,1015 C657,1040 660,1080 676,1135 C690,1175 700,1220 704,1278 C706,1320 703,1400 692,1446 L713,1452 C722,1400 726,1320 724,1278 C722,1220 713,1170 700,1122 C688,1080 681,1045 681,1005 C681,985 682,965 681.5,946 Z"/>
</g>

<g id="texts">
<text x="125.9" y="206.3" font-size="41.01" font-weight="bold" fill="#d98fc2" textLength="218.0" lengthAdjust="spacingAndGlyphs">ADDICTIONS</text>
<text x="100.2" y="264.4" font-size="40.58" font-weight="bold" fill="#d98fc2" textLength="269.1" lengthAdjust="spacingAndGlyphs">DEPENDANCES</text>
<text x="83.1" y="437" font-size="42.46" font-weight="normal" fill="#5e3b16" textLength="162.0" lengthAdjust="spacingAndGlyphs" stroke="#5e3b16" stroke-width="0.6">SOMMEIL</text>
<text x="87.6" y="495" font-size="41.45" font-weight="normal" fill="#5e3b16" textLength="152.3" lengthAdjust="spacingAndGlyphs" stroke="#5e3b16" stroke-width="0.6">FATIGUE</text>
<text x="94.2" y="554" font-size="42.03" font-weight="normal" fill="#5e3b16" textLength="139.7" lengthAdjust="spacingAndGlyphs" stroke="#5e3b16" stroke-width="0.6">STRESS</text>
<text x="1017.1" y="192.8" font-size="39.86" font-weight="normal" fill="#3e5a62" textLength="279.4" lengthAdjust="spacingAndGlyphs" stroke="#3e5a62" stroke-width="0.6">APPRENTISSAGE</text>
<text x="1060.8" y="247.6" font-size="41.45" font-weight="normal" fill="#3e5a62" textLength="192.3" lengthAdjust="spacingAndGlyphs" stroke="#3e5a62" stroke-width="0.6">DYSLEXIE..</text>
<text x="1013.0" y="306.8" font-size="42.32" font-weight="normal" fill="#3e5a62" textLength="277.6" lengthAdjust="spacingAndGlyphs" stroke="#3e5a62" stroke-width="0.6">HYPERACTIVITE</text>
<text x="1138.8" y="479.4" font-size="24.35" font-weight="bold" fill="#fde8f7" textLength="188.0" lengthAdjust="spacingAndGlyphs">CONCENTRATION</text>
<text x="1163.3" y="526.5" font-size="36.67" font-weight="bold" fill="#fde8f7" textLength="138.0" lengthAdjust="spacingAndGlyphs">LECTURE</text>
<text x="1158.4" y="576" font-size="36.23" font-weight="bold" fill="#fde8f7" textLength="148.8" lengthAdjust="spacingAndGlyphs">ECRITURE</text>
<text x="217.2" y="1073" font-size="56.09" font-weight="bold" fill="#f3f53c" textLength="125.6" lengthAdjust="spacingAndGlyphs">PMA</text>
<text x="206.2" y="1143.8" font-size="43.19" font-weight="normal" fill="#fdeee8" textLength="145.5" lengthAdjust="spacingAndGlyphs" stroke="#fdeee8" stroke-width="0.6">DESIRS</text>
<text x="183.9" y="1208" font-size="44.35" font-weight="normal" fill="#fdeee8" textLength="190.5" lengthAdjust="spacingAndGlyphs" stroke="#fdeee8" stroke-width="0.6">D&#39;ENFANT</text>
<text x="147.5" y="1270" font-size="45.22" font-weight="bold" fill="#fdf2dd" textLength="265.4" lengthAdjust="spacingAndGlyphs">Périnatalité</text>
<text x="117.1" y="1413.7" font-size="42.03" font-weight="bold" fill="#5a3b1e" textLength="130.3" lengthAdjust="spacingAndGlyphs">LIGNEE</text>
<text x="86.7" y="1472" font-size="42.03" font-weight="bold" fill="#5a3b1e" textLength="186.3" lengthAdjust="spacingAndGlyphs">FAMILIALE</text>
<text x="84.4" y="1715.2" font-size="45.51" font-weight="normal" fill="#5ce1e6" textLength="266.2" lengthAdjust="spacingAndGlyphs" stroke="#5ce1e6" stroke-width="0.9">ACCOMPAGNEMENT</text>
<text x="99.2" y="1774.6" font-size="45.22" font-weight="normal" fill="#5ce1e6" textLength="236.1" lengthAdjust="spacingAndGlyphs" stroke="#5ce1e6" stroke-width="0.9">DES DIFFERENTS</text>
<text x="149.7" y="1848.8" font-size="59.86" font-weight="normal" fill="#5ce1e6" textLength="134.0" lengthAdjust="spacingAndGlyphs" stroke="#5ce1e6" stroke-width="1.6">DEUILS</text>
<text x="594.5" y="1642.6" font-size="39.71" font-weight="bold" fill="#ffbe5c" textLength="319.0" lengthAdjust="spacingAndGlyphs">Image du corps</text>
<text x="641.4" y="1712" font-size="39.86" font-weight="bold" fill="#fdf0fa" textLength="201.6" lengthAdjust="spacingAndGlyphs">POIDS DES</text>
<text x="643.0" y="1775.8" font-size="41.01" font-weight="bold" fill="#fdf0fa" textLength="198.8" lengthAdjust="spacingAndGlyphs">EMOTIONS</text>
<text x="544.8" y="1847" font-size="36.23" font-weight="bold" fill="#7ccdf0" textLength="404.1" lengthAdjust="spacingAndGlyphs">Troubles alimentaires</text>
<text x="1007.6" y="1273.3" font-size="37.68" font-weight="bold" fill="#effde8" textLength="184.3" lengthAdjust="spacingAndGlyphs">CONFIANCE</text>
<text x="1046.7" y="1324.5" font-size="37.68" font-weight="bold" fill="#effde8" textLength="106.5" lengthAdjust="spacingAndGlyphs">EN SOI</text>
<text x="1172.3" y="1434.4" font-size="28.55" font-weight="bold" fill="#f4e83c" textLength="140.4" lengthAdjust="spacingAndGlyphs">EDUCATION</text>
</g>
<g fill="#135a1b"><rect x="1246" y="1867.6" width="6.6" height="6.6"/><rect x="1257" y="1867.6" width="6.6" height="6.6"/><rect x="1268" y="1867.6" width="6.6" height="6.6"/><rect x="1279" y="1867.6" width="6.6" height="6.6"/></g>
</svg>
</body></html>
